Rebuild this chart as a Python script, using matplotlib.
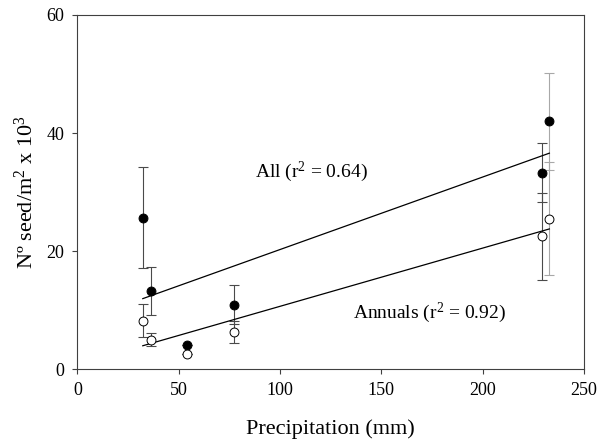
import matplotlib
matplotlib.use('Agg')
import matplotlib.pyplot as plt
import numpy as np

plt.rcParams['font.family'] = ['Liberation Serif', 'DejaVu Serif']
plt.rcParams['mathtext.fontset'] = 'custom'
plt.rcParams['mathtext.rm'] = 'Liberation Serif'
plt.rcParams['mathtext.it'] = 'Liberation Serif:italic'

# mean seed density (x 10^3 per m2) and error vs annual precipitation
precip = [32.3, 36.2, 54.3, 77.3, 229.1, 232.9]
all_mean = [25.7, 13.3, 4.1, 10.9, 33.3, 42.0]
all_err = [8.6, 4.1, 0.0, 3.3, 5.0, 8.2]
ann_mean = [8.2, 5.0, 2.6, 6.3, 22.5, 25.5]
ann_err = [2.8, 1.1, 0.0, 1.9, 7.3, 9.6]
bar_col = ['#4a4a4a', '#4a4a4a', '#4a4a4a', '#4a4a4a', '#4a4a4a', '#a8a8a8']

x = np.array(precip)
fig = plt.figure(figsize=(5.98, 4.41), dpi=100)
ax = fig.add_axes([0.1293, 0.1626, 0.8473, 0.8034])

for mean, err in [(all_mean, all_err), (ann_mean, ann_err)]:
    for i in range(len(x)):
        ax.errorbar(x[i], mean[i], yerr=err[i], fmt='none', ecolor=bar_col[i],
                    elinewidth=0.8, capsize=3.5, capthick=0.8, zorder=2)

# linear fits
xx = np.array([x.min(), x.max()])
for mean in [all_mean, ann_mean]:
    b, a = np.polyfit(x, mean, 1)
    ax.plot(xx, a + b * xx, color='black', lw=0.9, zorder=3)

ax.plot(x, all_mean, 'o', ms=6.4, mfc='black', mec='black', mew=0.7, zorder=4)
ax.plot(x, ann_mean, 'o', ms=6.4, mfc='white', mec='black', mew=0.7, zorder=4)

ax.text(87.7, 33.5, 'All (r$^2$ = 0.64)', fontsize=14, va='center')
ax.text(135.9, 9.5, 'Annuals (r$^2$ = 0.92)', fontsize=14, va='center')

ax.set_xlim(0, 250)
ax.set_ylim(0, 60)
ax.set_xticks([0, 50, 100, 150, 200, 250])
ax.set_yticks([0, 20, 40, 60])
ax.tick_params(direction='out', length=3.5, width=0.8, color='#404040',
               labelsize=13, pad=6)
for s in ax.spines.values():
    s.set_color('#404040')
    s.set_linewidth(0.8)

ax.set_xlabel('Precipitation (mm)', fontsize=16, labelpad=14)
ax.set_ylabel('Nº seed/m$^2$ x 10$^3$', fontsize=16, labelpad=6)

fig.savefig('out.png', dpi=100)
